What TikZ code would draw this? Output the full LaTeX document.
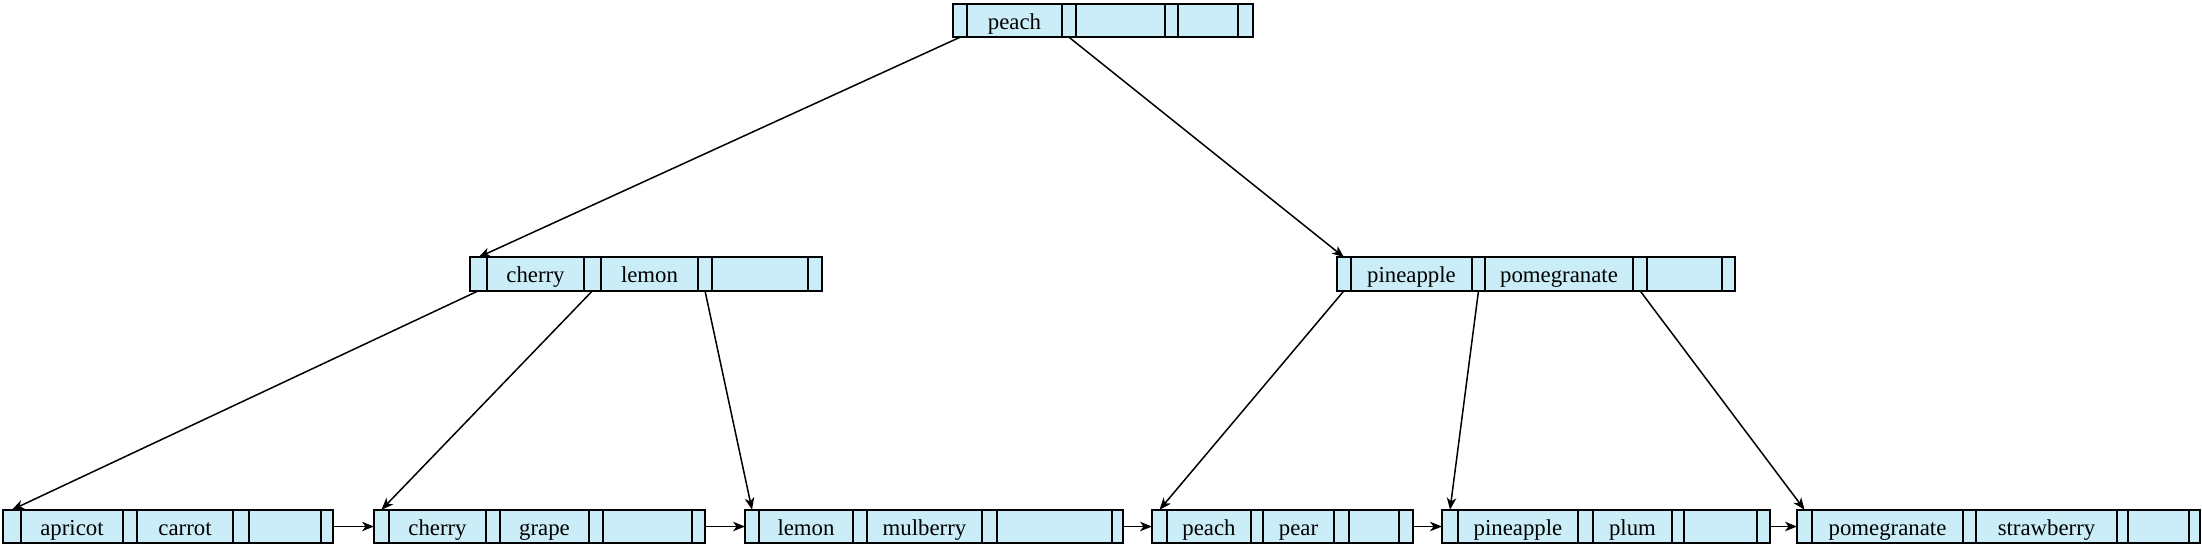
\documentclass[tikz,border=0pt]{standalone}
\usepackage{fontspec}
\setmainfont{Liberation Serif}
\usetikzlibrary{arrows.meta}
\definecolor{cellblue}{RGB}{202,237,248}
\tikzset{
  cell/.style={draw=black, fill=cellblue, line width=1.7pt, inner sep=0pt, outer sep=0pt,
    minimum height=33.5pt, text height=17.4pt, text depth=0pt,
    font=\fontsize{22.8}{27}\selectfont},
  edge/.style={line width=1.5pt, -{Stealth[length=12pt,width=9.5pt,inset=3.5pt]}}
}
\newcommand\bprec[3]{\foreach \i/\l/\r/\t in {#3}
  \node[cell, minimum width={(\r-\l)*1pt}] (#1-\i) at ({(\l+\r)/2},#2) {\t};}
\begin{document}
\begin{tikzpicture}[x=1pt,y=-1pt]
\useasboundingbox (0,0) rectangle (2202,556);
% root
\bprec{t}{20.5}{0/953/967/{},1/967/1062/peach,2/1062/1076/{},3/1076/1165/{},4/1165/1178/{},5/1178/1238/{},6/1238/1253/{}}
% level 2
\bprec{l}{274}{0/470/487/{},1/487/584/cherry,2/584/601/{},3/601/698/lemon,4/698/712/{},5/712/808/{},6/808/822/{}}
\bprec{r}{274}{0/1337/1351/{},1/1351/1472/pineapple,2/1472/1485/{},3/1485/1633/pomegranate,4/1633/1647/{},5/1647/1722/{},6/1722/1735/{}}
% leaves
\bprec{a}{526.5}{0/3/21/{},1/21/123/apricot,2/123/137/{},3/137/233/carrot,4/233/249/{},5/249/321/{},6/321/333/{}}
\bprec{b}{526.5}{0/374/389/{},1/389/486/cherry,2/486/500/{},3/500/589/grape,4/589/603/{},5/603/692/{},6/692/705/{}}
\bprec{c}{526.5}{0/745/759/{},1/759/853/lemon,2/853/867/{},3/867/982/mulberry,4/982/997/{},5/997/1112/{},6/1112/1123/{}}
\bprec{d}{526.5}{0/1152/1167/{},1/1167/1251/peach,2/1251/1263/{},3/1263/1334/pear,4/1334/1349/{},5/1349/1399/{},6/1399/1413/{}}
\bprec{e}{526.5}{0/1442/1458/{},1/1458/1578/pineapple,2/1578/1593/{},3/1593/1672/plum,4/1672/1684/{},5/1684/1757/{},6/1757/1770/{}}
\bprec{f}{526.5}{0/1797/1812/{},1/1812/1963/pomegranate,2/1963/1976/{},3/1976/2117/strawberry,4/2117/2128/{},5/2128/2189/{},6/2189/2200/{}}
% tree edges
\draw[edge] (t-0.south) -- (l-0.north);
\draw[edge] (t-2.south) -- (r-0.north);
\draw[edge] (l-0.south) -- (a-0.north);
\draw[edge] (l-2.south) -- (b-0.north);
\draw[edge] (l-4.south) -- (c-0.north);
\draw[edge] (r-0.south) -- (d-0.north);
\draw[edge] (r-2.south) -- (e-0.north);
\draw[edge] (r-4.south) -- (f-0.north);
% leaf links
\draw[edge] (a-6.east) -- (b-0.west);
\draw[edge] (b-6.east) -- (c-0.west);
\draw[edge] (c-6.east) -- (d-0.west);
\draw[edge] (d-6.east) -- (e-0.west);
\draw[edge] (e-6.east) -- (f-0.west);
\end{tikzpicture}
\end{document}
